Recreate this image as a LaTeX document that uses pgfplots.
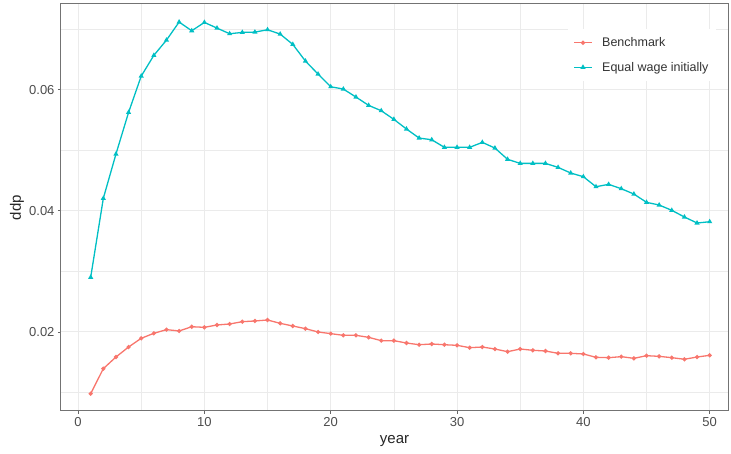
\documentclass[border=0pt]{standalone}
\usepackage{fontspec}
\setmainfont{Liberation Sans}
\usepackage{pgfplots}
\pgfplotsset{compat=1.18}
\definecolor{benchred}{HTML}{F8766D}
\definecolor{equalteal}{HTML}{00BFC4}
\definecolor{gridgray}{HTML}{EBEBEB}

\begin{document}
\begin{tikzpicture}
\useasboundingbox (-61pt,-43pt) rectangle (670pt,411pt);
\begin{axis}[
  at={(0,0)}, anchor=south west,
  scale only axis,
  width=667pt, height=407pt,
  xmin=-1.35, xmax=51.45,
  ymin=0.00696, ymax=0.07414,
  xtick={0,10,20,30,40,50},
  ytick={0.02,0.04,0.06},
  minor xtick={5,15,25,35,45},
  minor ytick={0.01,0.03,0.05,0.07},
  yticklabels={0.02,0.04,0.06},
  scaled y ticks=false,
  xtick pos=lower, ytick pos=left,
  grid=both,
  major grid style={gridgray, line width=1pt},
  minor grid style={gridgray, line width=0.6pt},
  axis line style={black!55, line width=1pt},
  tick style={black!60, line width=0.7pt},
  tick align=outside,
  major tick length=3pt,
  minor tick length=0pt,
  /pgf/number format/assume math mode=true,
  ticklabel style={font=\fontsize{13}{15}\selectfont, text=black!70},
  xlabel={year}, ylabel={ddp},
  label style={font=\fontsize{15}{17}\selectfont, text=black!85},
  every axis x label/.append style={at={(axis description cs:0.5,-0.0737)}, anchor=center},
  every axis y label/.append style={at={(axis description cs:-0.066,0.5)}, anchor=center},
  legend style={at={(rel axis cs:0.7595,0.938)}, anchor=north west, draw=none, fill=white,
    font=\fontsize{12.5}{14}\selectfont, text=black!80, inner xsep=6pt, inner ysep=6pt,
    row sep=10pt, column sep=8pt},
  legend cell align=left,
  clip=false,
]
\addplot[benchred, line width=1.3pt, mark=*, mark size=1.4pt] coordinates {
(1,0.00982) (2,0.01395) (3,0.01587) (4,0.01752) (5,0.01896) (6,0.01978) (7,0.02039)
(8,0.02017) (9,0.02087) (10,0.02077) (11,0.02116) (12,0.02132) (13,0.02170) (14,0.02182)
(15,0.02198) (16,0.02143) (17,0.02099) (18,0.02055) (19,0.02000) (20,0.01973) (21,0.01945)
(22,0.01945) (23,0.01912) (24,0.01857) (25,0.01857) (26,0.01818) (27,0.01790) (28,0.01802)
(29,0.01790) (30,0.01780) (31,0.01741) (32,0.01752) (33,0.01719) (34,0.01675) (35,0.01719)
(36,0.01698) (37,0.01686) (38,0.01648) (39,0.01648) (40,0.01637) (41,0.01582) (42,0.01576)
(43,0.01593) (44,0.01565) (45,0.01609) (46,0.01598) (47,0.01576) (48,0.01550) (49,0.01587)
(50,0.01615)
};
\addlegendentry{Benchmark}
\addplot[equalteal, line width=1.3pt, mark=triangle*, mark size=1.7pt] coordinates {
(1,0.02903) (2,0.04206) (3,0.04937) (4,0.05625) (5,0.06224) (6,0.06566) (7,0.06818)
(8,0.07116) (9,0.06972) (10,0.07110) (11,0.07016) (12,0.06923) (13,0.06945) (14,0.06950)
(15,0.06989) (16,0.06917) (17,0.06747) (18,0.06472) (19,0.06257) (20,0.06048) (21,0.06010)
(22,0.05878) (23,0.05741) (24,0.05652) (25,0.05510) (26,0.05350) (27,0.05201) (28,0.05173)
(29,0.05048) (30,0.05048) (31,0.05048) (32,0.05130) (33,0.05036) (34,0.04850) (35,0.04783)
(36,0.04783) (37,0.04783) (38,0.04717) (39,0.04624) (40,0.04563) (41,0.04398) (42,0.04437)
(43,0.04365) (44,0.04277) (45,0.04140) (46,0.04096) (47,0.04008) (48,0.03898) (49,0.03799)
(50,0.03820)
};
\addlegendentry{Equal wage initially}
\end{axis}
\end{tikzpicture}
\end{document}
